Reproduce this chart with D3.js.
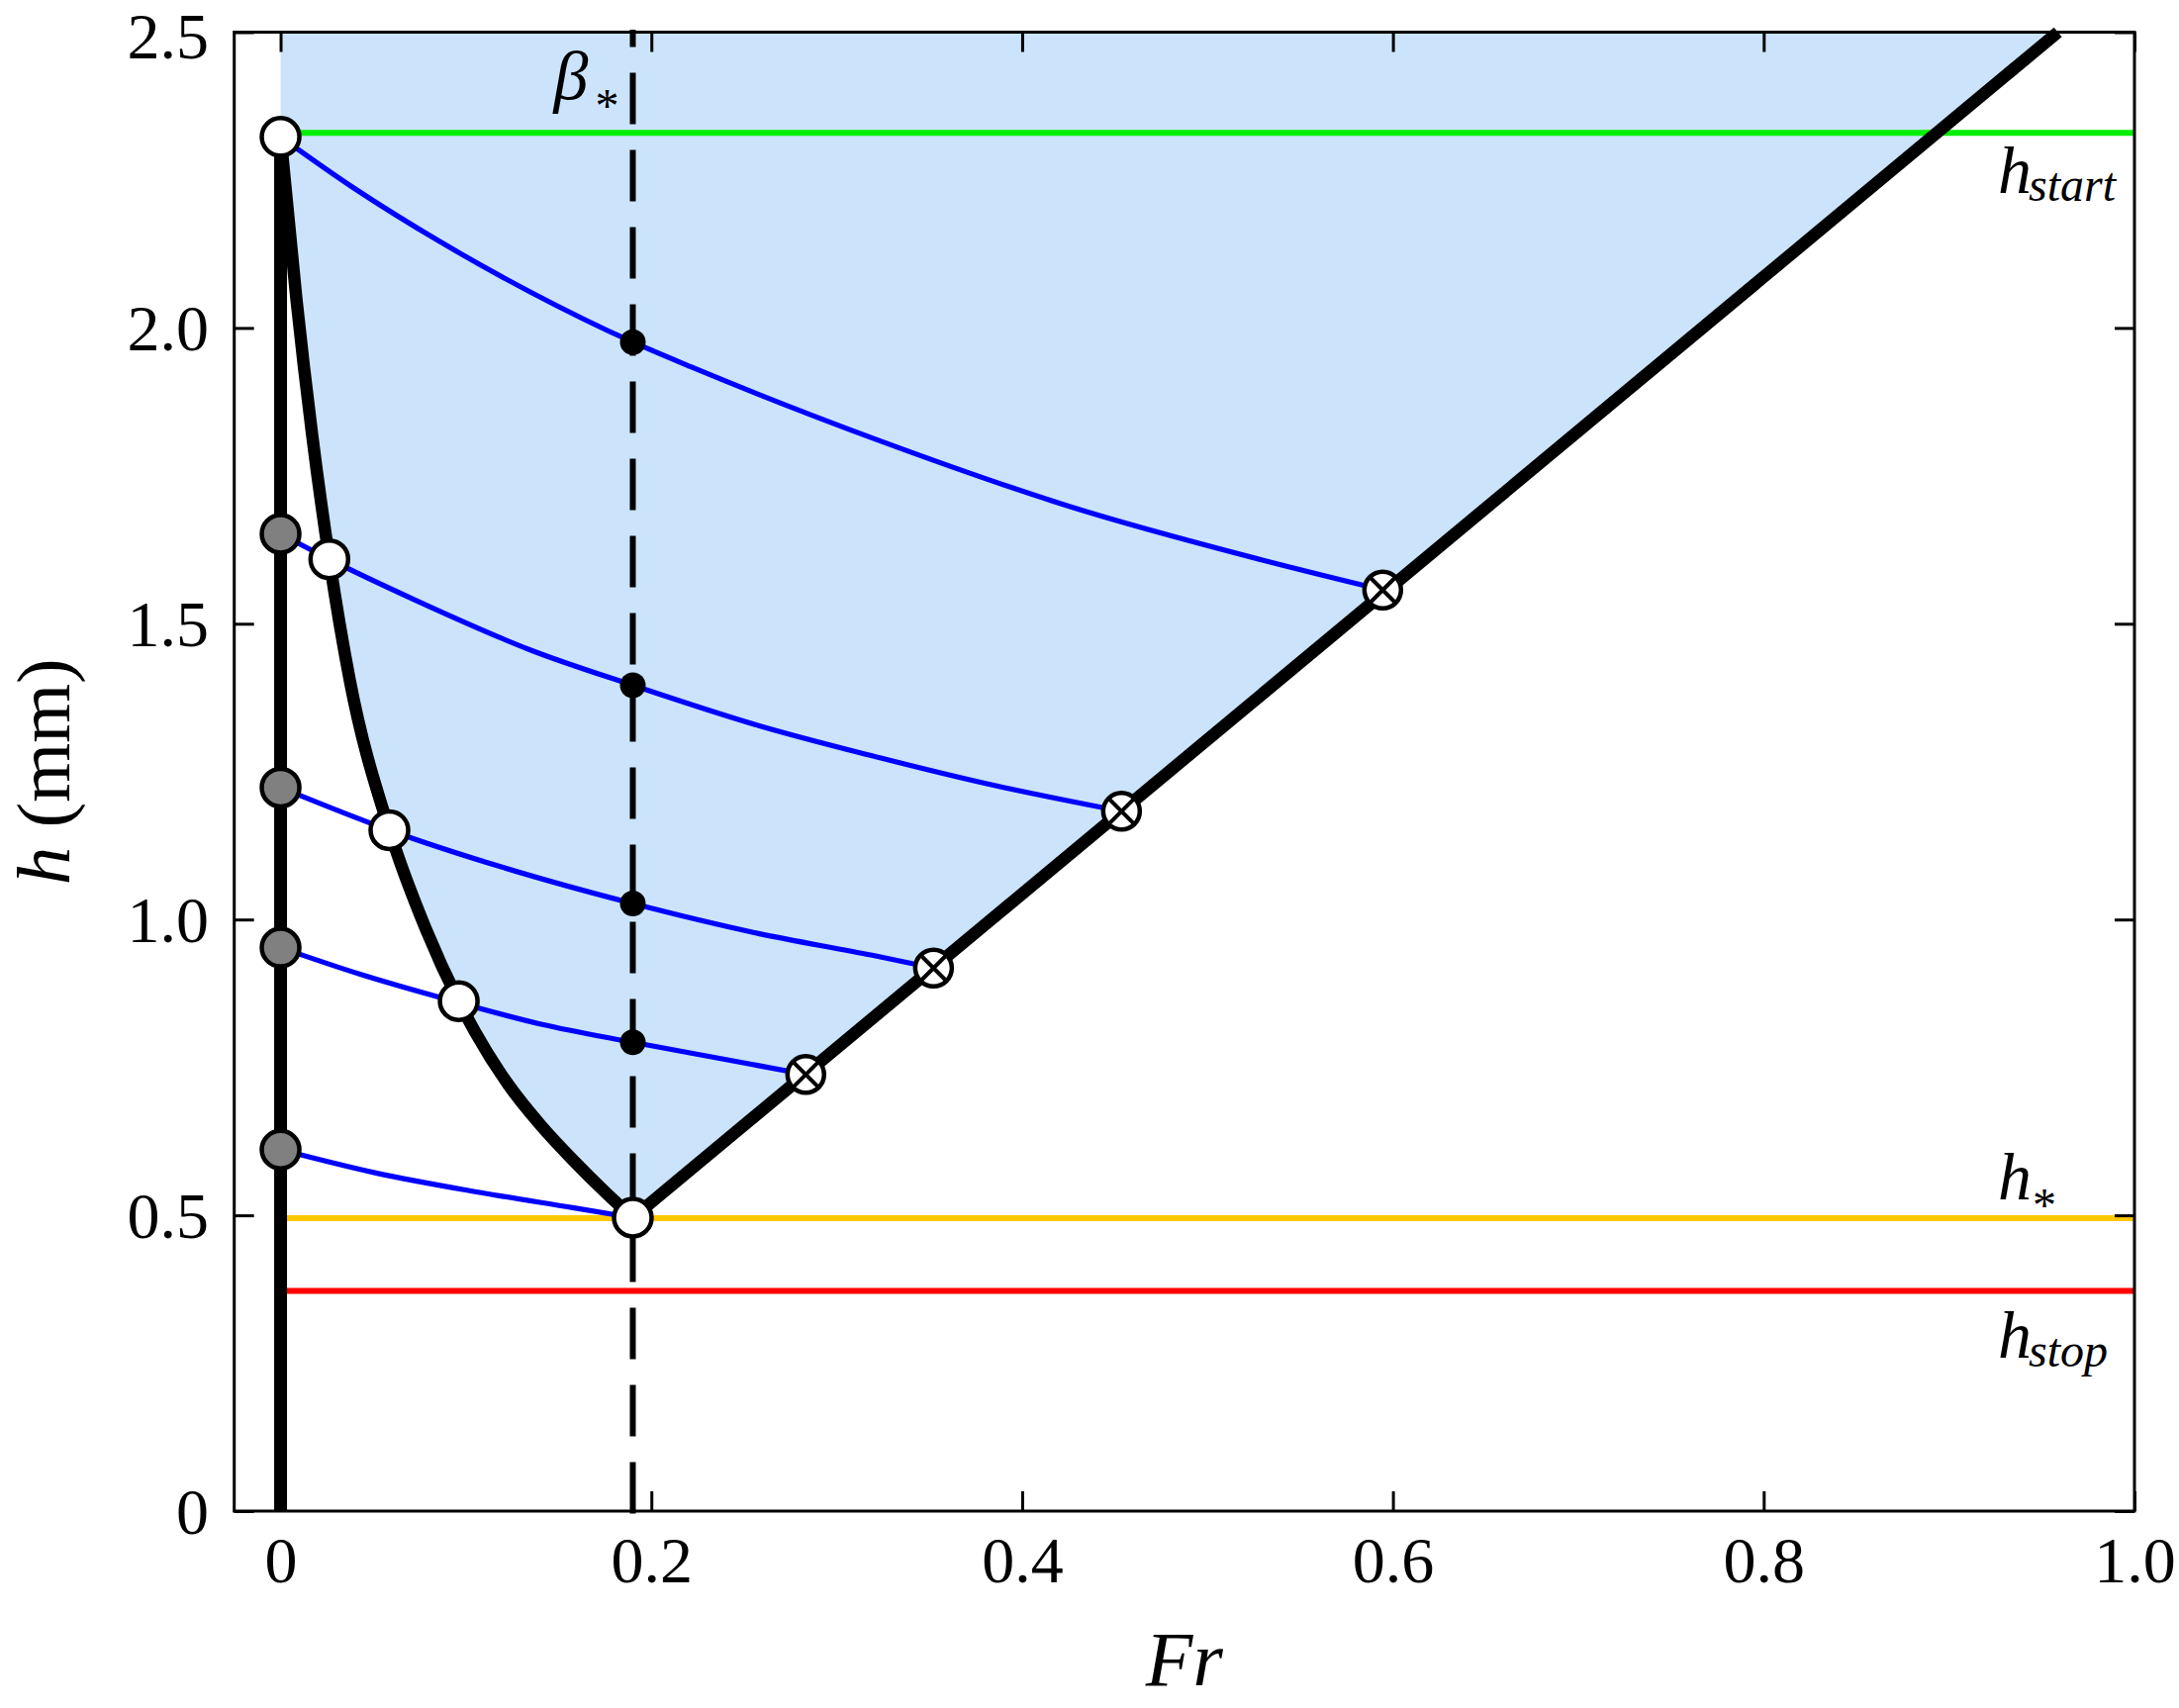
<!DOCTYPE html>
<html><head><meta charset="utf-8">
<script src="https://cdn.jsdelivr.net/npm/d3@7"></script>
<style>body{margin:0;background:#fff}svg{display:block}</style>
</head><body><svg id="c" width="2202" height="1726"></svg>
<script>
// ---- data ----
const xTicks = [0, 0.2, 0.4, 0.6, 0.8, 1.0];
const xTickLabels = ["0", "0.2", "0.4", "0.6", "0.8", "1.0"];
const yTicks = [0, 0.5, 1.0, 1.5, 2.0, 2.5];
const yTickLabels = ["0", "0.5", "1.0", "1.5", "2.0", "2.5"];
const hStart = 2.330, hStar = 0.495, hStop = 0.372, betaStar = 0.19;
const verticalLine = [[0, 0], [0, 2.323]];
const leftCurve = [[0,2.323],[0.0085,2.05],[0.017,1.82],[0.0263,1.609],[0.0373,1.405],[0.0587,1.151],[0.0782,0.985],[0.0961,0.862],[0.1049,0.810],[0.1227,0.7215],[0.1405,0.6515],[0.1583,0.5915],[0.176,0.5365],[0.19,0.496]];
const rightLine = [[0.19, 0.496], [0.9587, 2.5]];
const betaLine = [[0.19, -0.004], [0.19, 2.504]];
const curveA = [[0,2.323],[0.0393,2.237],[0.087,2.144],[0.1346,2.061],[0.19,1.976],[0.2223,1.933],[0.3246,1.8076],[0.4268,1.697],[0.5291,1.608],[0.5945,1.557]];
const curveB = [[0,1.652],[0.0263,1.609],[0.074,1.538],[0.1353,1.455],[0.19,1.396],[0.2578,1.3279],[0.3191,1.2767],[0.3804,1.2299],[0.4536,1.183]];
const curveC = [[0,1.223],[0.0587,1.151],[0.120,1.088],[0.19,1.027],[0.2578,0.9763],[0.3191,0.9396],[0.3522,0.918]];
const curveD = [[0,0.9525],[0.0434,0.907],[0.0961,0.8595],[0.1405,0.823],[0.19,0.7924],[0.2425,0.762],[0.2833,0.738]];
const curveE = [[0,0.611],[0.0515,0.5715],[0.1049,0.540],[0.1583,0.5125],[0.19,0.496]];
const blueCurves = [curveA, curveB, curveC, curveD, curveE];
const grayPts = [[0,1.652],[0,1.223],[0,0.9525],[0,0.611]];
const whitePts = [[0,2.323],[0.0263,1.609],[0.0587,1.151],[0.0961,0.862],[0.19,0.496]];
const dotPts = [[0.19,1.976],[0.19,1.396],[0.19,1.027],[0.19,0.7924]];
const crossPts = [[0.5945,1.557],[0.4536,1.183],[0.3522,0.918],[0.2833,0.738]];

// ---- layout ----
const svg = d3.select("#c");
const FONT = "Liberation Serif, Times New Roman, serif";
const x = d3.scaleLinear().domain([-0.025, 1]).range([236.7, 2157]);
const y = d3.scaleLinear().domain([0, 2.5]).range([1527, 32.5]);
const line = d3.line().x(d => x(d[0])).y(d => y(d[1]));
const smooth = d3.line().x(d => x(d[0])).y(d => y(d[1])).curve(d3.curveMonotoneX);

svg.append("rect").attr("width", 2202).attr("height", 1726).attr("fill", "#fff");

// shaded region
const fillPath = "M" + x(0) + "," + y(2.5) + "L" + smooth(leftCurve).slice(1) +
  "L" + x(rightLine[1][0]) + "," + y(rightLine[1][1]) + "Z";
svg.append("path").attr("d", fillPath).attr("fill", "#cbe4fb");

// horizontal reference lines
[[hStart, "#00ee00"], [hStar, "#ffc800"], [hStop, "#ff0000"]].forEach(([h, c]) => {
  svg.append("path").attr("d", line([[0, h], [1, h]])).attr("stroke", c)
    .attr("stroke-width", 6).attr("fill", "none");
});

// blue curves
svg.selectAll(".blue").data(blueCurves).join("path").attr("class", "blue")
  .attr("d", smooth).attr("fill", "none").attr("stroke", "#0000ff").attr("stroke-width", 5.2);

// black thick lines
svg.append("path").attr("d", line(verticalLine)).attr("stroke", "#000").attr("stroke-width", 13).attr("fill", "none");
svg.append("path").attr("d", smooth(leftCurve)).attr("stroke", "#000").attr("stroke-width", 12.5).attr("fill", "none").attr("stroke-linejoin", "round");
svg.append("path").attr("d", line(rightLine)).attr("stroke", "#000").attr("stroke-width", 12.5).attr("fill", "none");

// dashed beta* line
svg.append("path").attr("d", line(betaLine)).attr("stroke", "#000").attr("stroke-width", 6)
  .attr("stroke-dasharray", "52,26").attr("fill", "none");

// markers
svg.selectAll(".gray").data(grayPts).join("circle").attr("class", "gray")
  .attr("cx", d => x(d[0])).attr("cy", d => y(d[1])).attr("r", 19)
  .attr("fill", "#808080").attr("stroke", "#000").attr("stroke-width", 4.5);
svg.selectAll(".dot").data(dotPts).join("circle").attr("class", "dot")
  .attr("cx", d => x(d[0])).attr("cy", d => y(d[1])).attr("r", 13).attr("fill", "#000");
svg.selectAll(".white").data(whitePts).join("circle").attr("class", "white")
  .attr("cx", d => x(d[0])).attr("cy", d => y(d[1])).attr("r", 19)
  .attr("fill", "#fff").attr("stroke", "#000").attr("stroke-width", 4.5);
const cg = svg.selectAll(".cross").data(crossPts).join("g").attr("class", "cross")
  .attr("transform", d => `translate(${x(d[0])},${y(d[1])})`);
cg.append("circle").attr("r", 18.5).attr("fill", "#fff").attr("stroke", "#000").attr("stroke-width", 4.5);
cg.append("path").attr("d", "M-13,-13L13,13M-13,13L13,-13").attr("stroke", "#000").attr("stroke-width", 4);

// axes
function styleAxis(g) {
  g.select(".domain").remove();
  g.selectAll(".tick line").attr("stroke", "#000").attr("stroke-width", 3);
  g.attr("font-family", FONT).attr("font-size", 66);
  g.selectAll(".tick text").attr("fill", "#000");
}
svg.append("g").attr("transform", `translate(0,${y(0)})`)
  .call(d3.axisBottom(x).tickValues(xTicks).tickFormat((d, i) => xTickLabels[i]).tickSizeInner(-20).tickSizeOuter(0).tickPadding(25))
  .call(styleAxis);
svg.append("g").attr("transform", `translate(0,${y(2.5)})`)
  .call(d3.axisTop(x).tickValues(xTicks).tickFormat("").tickSizeInner(-20).tickSizeOuter(0))
  .call(styleAxis);
const gl = svg.append("g").attr("transform", `translate(${x(-0.025)},0)`)
  .call(d3.axisLeft(y).tickValues(yTicks).tickFormat((d, i) => yTickLabels[i]).tickSizeInner(-20).tickSizeOuter(0).tickPadding(25.7))
  .call(styleAxis);
gl.selectAll(".tick text").attr("dy", d => d === 2.5 ? "0.40em" : "0.34em");
svg.append("g").attr("transform", `translate(${x(1)},0)`)
  .call(d3.axisRight(y).tickValues(yTicks).tickFormat("").tickSizeInner(-20).tickSizeOuter(0))
  .call(styleAxis);

// frame
svg.append("rect").attr("x", x(-0.025)).attr("y", y(2.5))
  .attr("width", x(1) - x(-0.025)).attr("height", y(0) - y(2.5))
  .attr("fill", "none").attr("stroke", "#000").attr("stroke-width", 3);

// axis titles
svg.append("text").attr("x", (x(-0.025) + x(1)) / 2).attr("y", 1703)
  .attr("text-anchor", "middle").attr("font-family", FONT).attr("font-size", 78)
  .attr("font-style", "italic").text("Fr");
const yt = svg.append("text").attr("transform", `translate(70,${(y(0) + y(2.5)) / 2}) rotate(-90)`)
  .attr("text-anchor", "middle").attr("font-family", FONT).attr("font-size", 77);
yt.append("tspan").attr("font-style", "italic").text("h");
yt.append("tspan").text(" (mm)");

// annotations
const ann = svg.append("g").attr("font-family", FONT).attr("font-style", "italic");
ann.append("text").attr("x", x(betaStar) - 80).attr("y", 100).attr("font-size", 70).text("β");
ann.append("text").attr("x", x(betaStar) - 38).attr("y", 123).attr("font-size", 48).attr("font-style", "normal").text("*");

const hs = ann.append("text").attr("x", x(1) - 138).attr("y", y(hStart) + 61).attr("font-size", 68);
hs.append("tspan").text("h");
hs.append("tspan").attr("font-size", 48).attr("dy", 8).attr("dx", -3).text("start");

ann.append("text").attr("x", x(1) - 138).attr("y", y(hStar) - 19).attr("font-size", 68).text("h");
ann.append("text").attr("x", x(1) - 103).attr("y", y(hStar) + 3).attr("font-size", 48).attr("font-style", "normal").text("*");

const hp = ann.append("text").attr("x", x(1) - 138).attr("y", y(hStop) + 67).attr("font-size", 68);
hp.append("tspan").text("h");
hp.append("tspan").attr("font-size", 48).attr("dy", 9).attr("dx", -3).text("stop");
</script></body></html>
